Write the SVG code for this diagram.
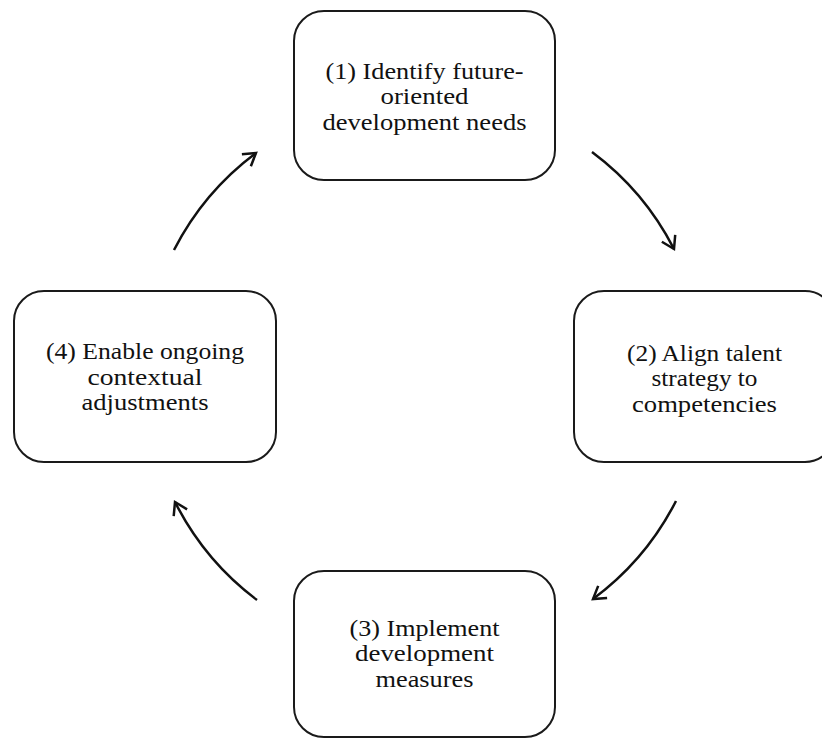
<svg xmlns="http://www.w3.org/2000/svg" width="822" height="738" viewBox="0 0 822 738">
  <style>
    .box { fill: #ffffff; stroke: #1a1a1a; stroke-width: 2; }
    .label { font-family: "Liberation Serif", "Times New Roman", serif; font-size: 23px; fill: #111111; text-anchor: middle; }
    .flow { fill: none; stroke: #111111; stroke-width: 2.5; }
  </style>
  <defs>
    <marker id="chevron" markerUnits="userSpaceOnUse" markerWidth="30" markerHeight="30" viewBox="-15 -15 30 30" refX="0" refY="0" orient="auto">
      <path d="M -12 -7.5 L 0 0 L -12 7.5" fill="none" stroke="#111111" stroke-width="2.5" stroke-linejoin="miter"/>
    </marker>
  </defs>
  <rect width="822" height="738" fill="#ffffff"/>

  <!-- cycle connectors: arcs around the centre of the diagram -->
  <g id="connectors">
    <path class="flow" d="M 592 152 A 280 280 0 0 1 674 249" marker-end="url(#chevron)"/>
    <path class="flow" d="M 676 501 A 280 280 0 0 1 593 599" marker-end="url(#chevron)"/>
    <path class="flow" d="M 257 600 A 280 280 0 0 1 175 502" marker-end="url(#chevron)"/>
    <path class="flow" d="M 174 250 A 280 280 0 0 1 256 153" marker-end="url(#chevron)"/>
  </g>

  <g id="step1">
    <rect class="box" x="294" y="11" width="261" height="169" rx="30" ry="30"/>
    <text class="label" x="424.5" y="78.5" textLength="198" lengthAdjust="spacingAndGlyphs">(1) Identify future-</text>
    <text class="label" x="424.5" y="104" textLength="88" lengthAdjust="spacingAndGlyphs">oriented</text>
    <text class="label" x="424.5" y="129.5" textLength="204" lengthAdjust="spacingAndGlyphs">development needs</text>
  </g>

  <g id="step2">
    <rect class="box" x="574" y="291" width="261" height="171" rx="30" ry="30"/>
    <text class="label" x="704.5" y="360.5" textLength="155" lengthAdjust="spacingAndGlyphs">(2) Align talent</text>
    <text class="label" x="704.5" y="386" textLength="106" lengthAdjust="spacingAndGlyphs">strategy to</text>
    <text class="label" x="704.5" y="411.5" textLength="145" lengthAdjust="spacingAndGlyphs">competencies</text>
  </g>

  <g id="step3">
    <rect class="box" x="294" y="571" width="261" height="166" rx="30" ry="30"/>
    <text class="label" x="424.5" y="635.5" textLength="150" lengthAdjust="spacingAndGlyphs">(3) Implement</text>
    <text class="label" x="424.5" y="661" textLength="139" lengthAdjust="spacingAndGlyphs">development</text>
    <text class="label" x="424.5" y="686.5" textLength="98" lengthAdjust="spacingAndGlyphs">measures</text>
  </g>

  <g id="step4">
    <rect class="box" x="14" y="291" width="262" height="171" rx="30" ry="30"/>
    <text class="label" x="145" y="359" textLength="198" lengthAdjust="spacingAndGlyphs">(4) Enable ongoing</text>
    <text class="label" x="145" y="384.5" textLength="115" lengthAdjust="spacingAndGlyphs">contextual</text>
    <text class="label" x="145" y="410" textLength="127" lengthAdjust="spacingAndGlyphs">adjustments</text>
  </g>
</svg>
